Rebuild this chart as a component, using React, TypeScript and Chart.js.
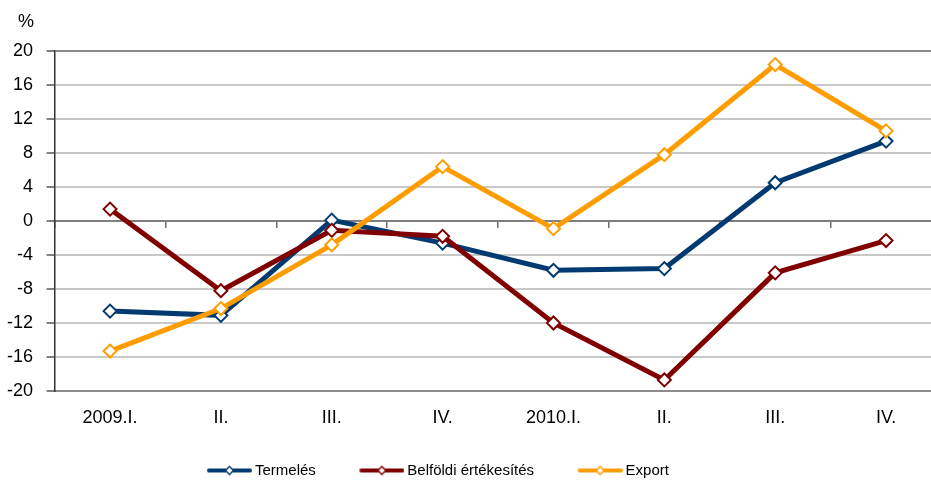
import React, { useEffect, useRef } from 'react';
import { Chart, registerables } from 'chart.js';

Chart.register(...registerables);

const categories = ['2009.I.', 'II.', 'III.', 'IV.', '2010.I.', 'II.', 'III.', 'IV.'];
const seriesNames = ['Termelés', 'Belföldi értékesítés', 'Export'];
const termeles = [-10.6, -11.1, 0.1, -2.6, -5.8, -5.6, 4.5, 9.4];
const belfoldi = [1.4, -8.2, -1.1, -1.8, -12.0, -18.7, -6.1, -2.3];
const exportVals = [-15.3, -10.3, -2.8, 6.4, -0.9, 7.8, 18.4, 10.6];
const yMin = -20;
const yMax = 20;
const yStep = 4;
const unitLabel = '%';

const COLORS = ['#003a70', '#800000', '#ff9c00'];
const FONT = "'Liberation Sans', Arial, sans-serif";

const LEG_GAP = 33.5;
const LEG_BOX = 74;
const LEG_IMG_W = 83;

function makeLegendImage(color: string): HTMLCanvasElement {
  const c = document.createElement('canvas');
  c.width = LEG_IMG_W;
  c.height = 12;
  const ctx = c.getContext('2d')!;
  const x0 = LEG_IMG_W - 45;
  ctx.strokeStyle = color;
  ctx.lineWidth = 4;
  ctx.lineCap = 'round';
  ctx.beginPath();
  ctx.moveTo(x0 + 2, 6);
  ctx.lineTo(x0 + 43, 6);
  ctx.stroke();
  const cx = x0 + 22.5;
  ctx.beginPath();
  ctx.moveTo(cx, 2);
  ctx.lineTo(cx + 4, 6);
  ctx.lineTo(cx, 10);
  ctx.lineTo(cx - 4, 6);
  ctx.closePath();
  ctx.fillStyle = '#ffffff';
  ctx.fill();
  ctx.lineWidth = 1.5;
  ctx.stroke();
  return c;
}

export default function App() {
  const ref = useRef<HTMLCanvasElement | null>(null);

  useEffect(() => {
    if (!ref.current) return;
    const images = COLORS.map(makeLegendImage);
    const values = [termeles, belfoldi, exportVals];
    const orders = [3, 2, 1];

    const boxShift = {
      id: 'boxShift',
      afterLayout(chart: any) {
        const lg = chart.legend;
        if (lg) {
          lg.left = 207 - 10 - LEG_GAP;
          lg.right = 931;
          lg.width = lg.right - lg.left;
        }
        const tb = chart.titleBlock;
        if (tb) {
          tb.left = 18;
          tb.width = tb.right - tb.left;
        }
      },
    };

    const chart = new Chart(ref.current, {
      type: 'line',
      data: {
        labels: categories,
        datasets: seriesNames.map((name, i) => ({
          label: name,
          data: values[i],
          borderColor: COLORS[i],
          backgroundColor: COLORS[i],
          borderWidth: 5,
          pointStyle: 'rectRot',
          pointRadius: 6.5,
          pointBorderWidth: 2,
          pointBackgroundColor: '#ffffff',
          pointBorderColor: COLORS[i],
          tension: 0,
          order: orders[i],
          xAxisID: 'x',
        })),
      },
      options: {
        responsive: false,
        animation: false,
        layout: { padding: 0 },
        plugins: {
          tooltip: { enabled: false },
          title: {
            display: true,
            text: unitLabel,
            align: 'start',
            color: '#000',
            font: { family: FONT, size: 18, weight: 'normal' },
            padding: { top: 11.7, bottom: 17.7 },
          },
          legend: {
            display: true,
            position: 'bottom',
            align: 'start',
            labels: {
              usePointStyle: true,
              pointStyleWidth: LEG_BOX,
              padding: 10,
              color: '#000',
              font: { family: FONT, size: 15 },
              generateLabels: (ch: any) =>
                ch.data.datasets.map((ds: any, i: number) => ({
                  text: ds.label,
                  pointStyle: images[i],
                  fillStyle: COLORS[i],
                  strokeStyle: COLORS[i],
                  lineWidth: 0,
                  hidden: false,
                  datasetIndex: i,
                  fontColor: '#000',
                })),
            },
          },
        },
        scales: {
          x: {
            type: 'category',
            position: 'bottom',
            offset: true,
            grid: { display: true, drawOnChartArea: false, drawTicks: false },
            border: { display: true, color: '#8c8c8c', width: 2 },
            ticks: {
              color: '#000',
              padding: 16.2,
              maxRotation: 0,
              autoSkip: false,
              font: { family: FONT, size: 18 },
            },
            afterFit: (s: any) => {
              s.height = 62;
            },
          },
          x2: {
            type: 'category',
            labels: categories,
            position: { y: 0 } as any,
            offset: true,
            grid: {
              display: true,
              offset: true,
              drawOnChartArea: false,
              drawTicks: true,
              tickLength: 6,
              color: '#6e6e6e',
              lineWidth: 1.5,
            },
            border: { display: true, color: '#7f7f7f', width: 2 },
            ticks: { display: false },
          },
          y: {
            type: 'linear',
            position: 'left',
            min: yMin,
            max: yMax,
            ticks: {
              stepSize: yStep,
              color: '#000',
              padding: 13.6,
              font: { family: FONT, size: 18 },
            },
            grid: {
              color: (c: any) =>
                c.tick && (c.tick.value === 0 || c.tick.value === yMax || c.tick.value === yMin)
                  ? '#8c8c8c'
                  : '#c8c8c8',
              lineWidth: 2,
              tickLength: 8,
              tickColor: '#7f7f7f',
            },
            border: { display: true, color: '#333333', width: 1.5 },
            afterFit: (s: any) => {
              s.width = 54.6;
            },
          },
        },
      },
      plugins: [boxShift],
    } as any);

    return () => chart.destroy();
  }, []);

  return (
    <div
      style={{
        position: 'fixed',
        left: 0,
        top: 0,
        width: 931,
        height: 482,
        overflow: 'hidden',
        background: '#ffffff',
      }}
    >
      <canvas
        ref={ref}
        width={950}
        height={488}
        style={{ display: 'block', width: 950, height: 488, maxWidth: 'none' }}
      />
    </div>
  );
}
